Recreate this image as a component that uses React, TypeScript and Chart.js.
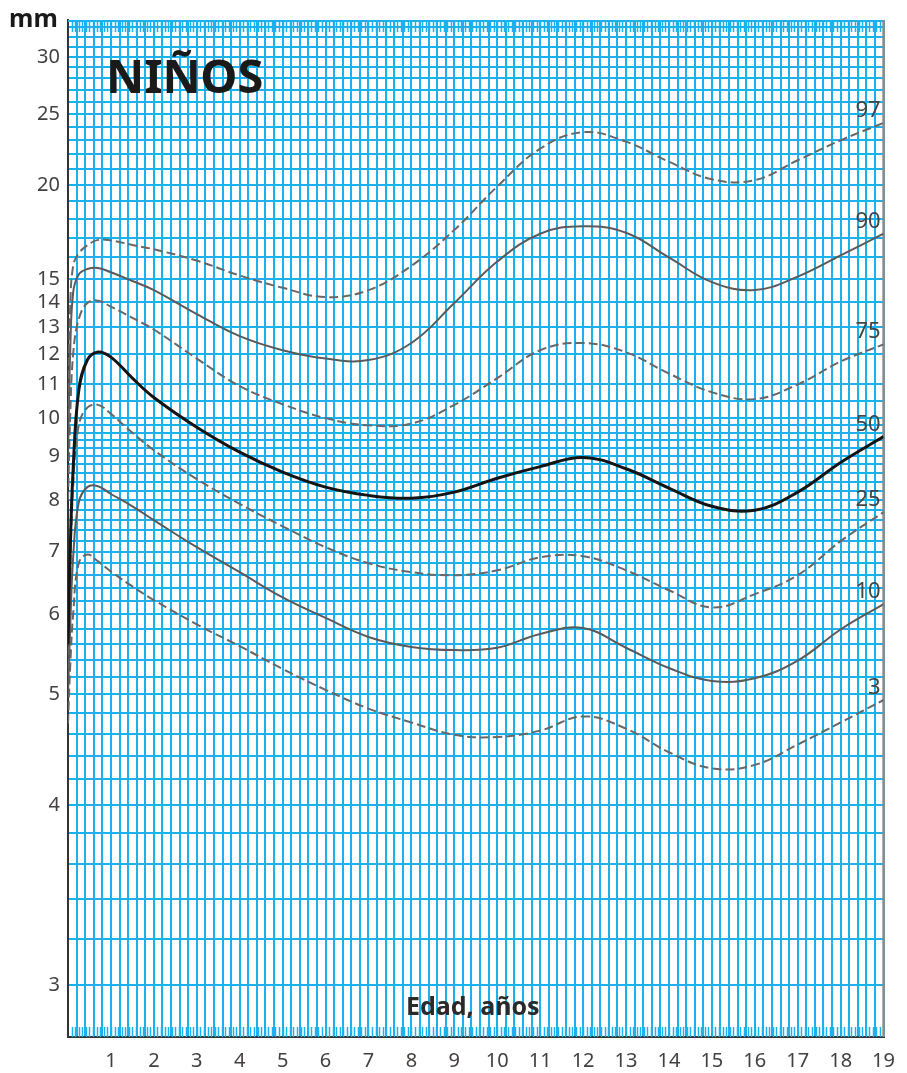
import React, { useEffect, useRef } from 'react';
import { Chart, Scale, registerables } from 'chart.js';

// ---- data ----
const AGES = [0, 0.05, 0.12, 0.25, 0.45, 0.7, 1, 1.5, 2, 3, 4, 5, 6, 7, 8, 9, 10, 11, 12, 13, 14, 15, 16, 17, 18, 19];

const P97 = [10.0, 13.7, 15.6, 16.2, 16.6, 16.88, 16.85, 16.62, 16.4, 15.85, 15.15, 14.6, 14.2, 14.5, 15.6, 17.4, 19.9, 22.4, 23.6, 22.9, 21.5, 20.35, 20.3, 21.6, 23.0, 24.3];
const P90 = [9.0, 12.0, 14.4, 15.2, 15.45, 15.5, 15.3, 14.9, 14.5, 13.5, 12.65, 12.14, 11.85, 11.8, 12.4, 13.95, 15.8, 17.2, 17.6, 17.25, 16.0, 14.85, 14.5, 15.1, 16.1, 17.2];
const P75 = [8.0, 10.0, 12.0, 13.3, 13.95, 14.05, 13.8, 13.35, 12.9, 11.85, 10.95, 10.4, 10.0, 9.8, 9.85, 10.38, 11.2, 12.14, 12.4, 12.07, 11.35, 10.76, 10.55, 11.0, 11.75, 12.35];
const P50 = [5.6, 7.0, 8.7, 10.8, 11.8, 12.08, 11.9, 11.2, 10.6, 9.75, 9.1, 8.62, 8.28, 8.1, 8.04, 8.17, 8.48, 8.75, 8.97, 8.7, 8.26, 7.87, 7.79, 8.17, 8.85, 9.5];
const P25 = [5.3, 6.6, 8.3, 9.8, 10.3, 10.38, 10.12, 9.6, 9.15, 8.46, 7.92, 7.47, 7.08, 6.8, 6.65, 6.6, 6.68, 6.9, 6.92, 6.68, 6.36, 6.1, 6.3, 6.6, 7.19, 7.75];
const P10 = [5.0, 5.8, 6.9, 7.95, 8.28, 8.3, 8.13, 7.87, 7.59, 7.08, 6.65, 6.25, 5.95, 5.69, 5.56, 5.52, 5.55, 5.73, 5.81, 5.55, 5.3, 5.15, 5.18, 5.39, 5.79, 6.15];
const P3 = [4.7, 5.3, 6.0, 6.8, 6.95, 6.83, 6.66, 6.42, 6.21, 5.86, 5.57, 5.29, 5.05, 4.85, 4.71, 4.59, 4.57, 4.63, 4.77, 4.65, 4.43, 4.29, 4.32, 4.5, 4.71, 4.94];

const PERCENTILE_NAMES = ['97', '90', '75', '50', '25', '10', '3'];
const SERIES = [P97, P90, P75, P50, P25, P10, P3];

const Y_LABELS = [3, 4, 5, 6, 7, 8, 9, 10, 11, 12, 13, 14, 15, 20, 25, 30];
const X_LABELS = [1, 2, 3, 4, 5, 6, 7, 8, 9, 10, 11, 12, 13, 14, 15, 16, 17, 18, 19];

const TITLE = 'NIÑOS';
const X_TITLE = 'Edad, años';
const Y_UNIT = 'mm';

// ---- scale setup ----
const SHIFT = 1.83;
const Y_MIN = 2.81;
const Y_MAX = 33.8;

const Y_GRID: number[] = [];
for (let i = 0; i <= 35; i++) Y_GRID.push(Math.round((3 + i * 0.2) * 10) / 10);
Y_GRID.push(10.5);
for (let v = 11; v <= 33; v++) Y_GRID.push(v);

const X_GRID: number[] = [];
for (let i = 0; i <= 95; i++) X_GRID.push(Math.round(i * 2) / 10);

const MONTHS: number[] = [];
for (let k = 1; k < 19 * 12; k++) MONTHS.push(k / 12);

const GRID = '#1cb1ec';
const FONT = "'Noto Sans', 'Open Sans', sans-serif";

class SkinfoldScale extends Scale {
  determineDataLimits() {
    this.min = this.options.min;
    this.max = this.options.max;
  }
  buildTicks() {
    return Y_GRID.map((v) => ({ value: v }));
  }
  configure() {
    super.configure();
    this._s = Math.log(this.min - SHIFT);
    this._r = Math.log(this.max - SHIFT) - this._s;
  }
  getLabelForValue(v) {
    return String(v);
  }
  getPixelForValue(v) {
    return this.getPixelForDecimal((Math.log(v - SHIFT) - this._s) / this._r);
  }
  getValueForPixel(p) {
    return Math.exp(this._s + this.getDecimalForPixel(p) * this._r) + SHIFT;
  }
}
(SkinfoldScale as any).id = 'skinfold';
(SkinfoldScale as any).defaults = {};

Chart.register(...registerables, SkinfoldScale as any);

const overlayPlugin = {
  id: 'overlay',
  beforeDatasetsDraw(chart) {
    const { ctx, chartArea: a } = chart;
    const x = chart.scales.x;
    ctx.save();
    ctx.strokeStyle = GRID;
    ctx.lineWidth = 1.5;
    ctx.beginPath();
    MONTHS.forEach((m) => {
      const px = Math.round(x.getPixelForValue(m)) + 0.5;
      ctx.moveTo(px, a.bottom);
      ctx.lineTo(px, a.bottom - 10);
      ctx.moveTo(px, a.top);
      ctx.lineTo(px, a.top + 12);
    });
    ctx.stroke();
    ctx.lineWidth = 2;
    ctx.beginPath();
    ctx.moveTo(a.left, a.top + 1);
    ctx.lineTo(a.right, a.top + 1);
    ctx.stroke();
    ctx.strokeStyle = '#8c8c8c';
    ctx.lineWidth = 2.5;
    ctx.beginPath();
    ctx.moveTo(a.right, a.top);
    ctx.lineTo(a.right, a.bottom);
    ctx.stroke();
    ctx.restore();
  },
  afterDatasetsDraw(chart) {
    const { ctx, chartArea: a } = chart;
    const x = chart.scales.x;
    const y = chart.scales.y;
    ctx.save();
    ctx.font = `22px ${FONT}`;
    ctx.fillStyle = '#444';
    ctx.textAlign = 'right';
    ctx.textBaseline = 'alphabetic';
    PERCENTILE_NAMES.forEach((name, i) => {
      const s = SERIES[i];
      const px = x.getPixelForValue(AGES[AGES.length - 1]) - 3;
      const py = y.getPixelForValue(s[s.length - 1]) - 6;
      ctx.fillText(name, px, py);
    });
    ctx.font = `bold 47px ${FONT}`;
    ctx.fillStyle = '#1a1a1a';
    ctx.textAlign = 'left';
    ctx.fillText(TITLE, a.left + 38, a.top + 73);
    ctx.font = `bold 25px ${FONT}`;
    ctx.fillStyle = '#2a2a2a';
    ctx.textAlign = 'center';
    ctx.fillText(X_TITLE, (a.left + a.right) / 2 - 3, a.bottom - 22);
    ctx.font = `bold 25px ${FONT}`;
    ctx.fillStyle = '#1a1a1a';
    ctx.textAlign = 'left';
    ctx.fillText(Y_UNIT, 9, 27);
    ctx.restore();
  },
};

export default function App() {
  const ref = useRef<HTMLCanvasElement | null>(null);
  useEffect(() => {
    if (!ref.current) return;
    const dashed = [9, 4];
    const styles = [
      { color: '#676767', width: 2, dash: dashed },
      { color: '#5a5a5a', width: 2, dash: [] },
      { color: '#676767', width: 2, dash: dashed },
      { color: '#141414', width: 3, dash: [] },
      { color: '#676767', width: 2, dash: dashed },
      { color: '#5a5a5a', width: 2, dash: [] },
      { color: '#676767', width: 2, dash: dashed },
    ];
    const chart = new Chart(ref.current, {
      type: 'line',
      data: {
        datasets: SERIES.map((s, i) => ({
          label: PERCENTILE_NAMES[i],
          data: AGES.map((age, j) => ({ x: age, y: s[j] })),
          borderColor: styles[i].color,
          borderWidth: styles[i].width,
          borderDash: styles[i].dash,
          pointRadius: 0,
          fill: false,
          tension: 0.4,
        })),
      },
      options: {
        responsive: false,
        animation: false,
        devicePixelRatio: 1,
        layout: { padding: { top: 20, right: 18, left: 0, bottom: 0 } },
        plugins: { legend: { display: false }, tooltip: { enabled: false } },
        scales: {
          x: {
            type: 'linear',
            min: 0,
            max: 19,
            afterBuildTicks: (scale) => {
              scale.ticks = X_GRID.map((v) => ({ value: v }));
            },
            afterFit: (scale) => {
              scale.height = 36;
            },
            grid: { color: GRID, lineWidth: 2, drawTicks: false },
            border: { color: '#333', width: 2 },
            ticks: {
              autoSkip: false,
              maxRotation: 0,
              minRotation: 0,
              padding: 12,
              color: '#454040',
              font: { family: FONT, size: 20 },
              callback: (v) => {
                const r = Math.round(v);
                return Math.abs(v - r) < 1e-6 && X_LABELS.includes(r) ? String(r) : '';
              },
            },
          },
          y: {
            type: 'skinfold',
            position: 'left',
            min: Y_MIN,
            max: Y_MAX,
            afterFit: (scale) => {
              scale.width = 68;
            },
            grid: { color: GRID, lineWidth: 2, drawTicks: false },
            border: { color: '#333', width: 2 },
            ticks: {
              autoSkip: false,
              padding: 8,
              color: '#454040',
              font: { family: FONT, size: 20 },
              callback: (v) => (Y_LABELS.includes(v) ? String(v) : ''),
            },
          },
        },
      },
      plugins: [overlayPlugin],
    });
    return () => chart.destroy();
  }, []);
  return (
    <div style={{ position: 'absolute', left: 0, top: 0, width: 907, height: 1073, background: '#fff' }}>
      <canvas ref={ref} width={907} height={1073} style={{ display: 'block', width: 907, height: 1073 }} />
    </div>
  );
}
